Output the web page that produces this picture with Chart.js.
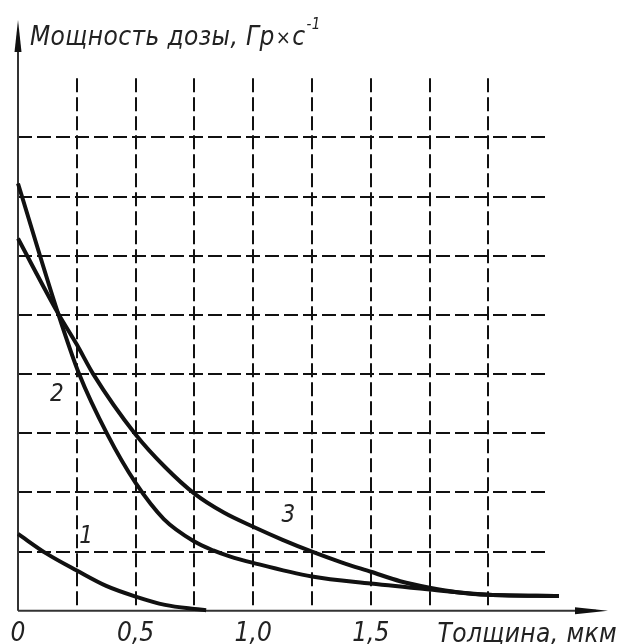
<!DOCTYPE html>
<html>
<head>
<meta charset="utf-8">
<script src="https://cdn.jsdelivr.net/npm/chart.js@4.4.1/dist/chart.umd.min.js"></script>
<style>
  html, body { margin: 0; padding: 0; background: #fff; }
  #doseChart { display: block; }
</style>
</head>
<body>
<canvas id="doseChart" width="619" height="644"></canvas>
<script>
// thickness, um
var thickness1 = [0, 0.12, 0.25, 0.375, 0.5, 0.625, 0.75, 0.8];
var thickness2 = [0, 0.17, 0.26, 0.38, 0.5, 0.62, 0.75, 0.83, 0.9, 1.0, 1.25, 1.5, 1.75, 2.0, 2.3];
var thickness3 = [0, 0.17, 0.25, 0.32, 0.5, 0.625, 0.75, 0.875, 1.0, 1.125, 1.25, 1.375, 1.5, 1.625, 1.75, 1.875, 2.0, 2.3];

// dose rate, grid units
var dose1 = [1.3, 0.97, 0.68, 0.42, 0.24, 0.1, 0.03, 0.01];
var dose2 = [7.22, 5.03, 4.0, 2.98, 2.16, 1.55, 1.17, 1.02, 0.92, 0.81, 0.58, 0.46, 0.36, 0.27, 0.25];
var dose3 = [6.29, 5.03, 4.5, 4.0, 2.98, 2.43, 1.98, 1.66, 1.42, 1.2, 1.0, 0.82, 0.66, 0.5, 0.39, 0.31, 0.27, 0.25];

var tickValues = [0, 0.5, 1.0, 1.5];
var tickLabels = ['0', '0,5', '1,0', '1,5'];

var FONT = '"DejaVu Sans Condensed", "DejaVu Sans", sans-serif';
var INK = '#111';

function toPoints(xs, ys) {
  return xs.map(function (x, i) { return { x: x, y: ys[i] }; });
}

function curve(xs, ys) {
  return {
    data: toPoints(xs, ys),
    borderColor: INK,
    borderWidth: 4,
    pointRadius: 0,
    fill: false,
    cubicInterpolationMode: 'monotone',
    clip: false
  };
}

// writes text pieces one after another, each with its own size and baseline shift
function drawRun(ctx, x, y, parts) {
  parts.forEach(function (p) {
    ctx.font = 'italic ' + p.size + 'px ' + FONT;
    ctx.fillText(p.text, x, y - (p.rise || 0));
    x += ctx.measureText(p.text).width + (p.gap || 0);
  });
}

// dashed grid, axes with arrows and all captions
var drawingPlugin = {
  id: 'drawing',
  beforeDatasetsDraw: function (chart) {
    var ctx = chart.ctx;
    var xs = chart.scales.x, ys = chart.scales.y;
    var x0 = xs.getPixelForValue(0), y0 = ys.getPixelForValue(0);

    ctx.save();
    ctx.strokeStyle = INK;
    ctx.lineWidth = 2;
    ctx.setLineDash([14, 5]);
    for (var v = 0.25; v <= 2.0001; v += 0.25) {
      var px = Math.round(xs.getPixelForValue(v));
      ctx.beginPath();
      ctx.moveTo(px, ys.getPixelForValue(9));
      ctx.lineTo(px, y0);
      ctx.stroke();
    }
    for (var h = 1; h <= 8; h++) {
      var py = Math.round(ys.getPixelForValue(h));
      ctx.beginPath();
      ctx.moveTo(x0, py);
      ctx.lineTo(xs.getPixelForValue(2.25), py);
      ctx.stroke();
    }
    ctx.setLineDash([]);

    // axes
    ctx.strokeStyle = '#333';
    ctx.lineWidth = 2;
    ctx.beginPath();
    ctx.moveTo(x0, y0);
    ctx.lineTo(x0, 30);
    ctx.moveTo(x0, y0);
    ctx.lineTo(xs.getPixelForValue(2.5) - 10, y0);
    ctx.stroke();

    ctx.fillStyle = INK;
    ctx.beginPath();
    ctx.moveTo(x0, 20);
    ctx.lineTo(x0 + 3.5, 52);
    ctx.lineTo(x0 - 3.5, 52);
    ctx.closePath();
    ctx.fill();

    ctx.beginPath();
    ctx.moveTo(608, y0);
    ctx.lineTo(575, y0 - 3.5);
    ctx.lineTo(575, y0 + 3.5);
    ctx.closePath();
    ctx.fill();
    ctx.restore();
  },
  afterDatasetsDraw: function (chart) {
    var ctx = chart.ctx;
    var xs = chart.scales.x, ys = chart.scales.y;
    ctx.save();
    ctx.fillStyle = '#222';
    ctx.textBaseline = 'alphabetic';
    ctx.textAlign = 'left';
    ctx.letterSpacing = '0.4px';

    drawRun(ctx, 30, 45, [
      { text: 'Мощность дозы, Гр', size: 26, gap: 1 },
      { text: '×', size: 20, rise: 1, gap: 1 },
      { text: 'с', size: 26, gap: 1 },
      { text: '-1', size: 15, rise: 16 }
    ]);

    ctx.font = 'italic 26px ' + FONT;
    ctx.textAlign = 'right';
    ctx.fillText('Толщина, мкм', 617, 642);

    // curve numbers
    ctx.letterSpacing = '0px';
    ctx.textAlign = 'center';
    ctx.textBaseline = 'middle';
    ctx.font = 'italic 24px ' + FONT;
    ctx.fillText('1', xs.getPixelForValue(0.29), ys.getPixelForValue(1.25));
    ctx.fillText('2', xs.getPixelForValue(0.165), ys.getPixelForValue(3.65));
    ctx.fillText('3', xs.getPixelForValue(1.15), ys.getPixelForValue(1.6));
    ctx.restore();
  }
};

new Chart(document.getElementById('doseChart'), {
  type: 'line',
  data: {
    datasets: [
      curve(thickness1, dose1),
      curve(thickness2, dose2),
      curve(thickness3, dose3)
    ]
  },
  options: {
    responsive: false,
    animation: false,
    layout: { padding: { left: 18, right: 13, top: 19, bottom: -6 } },
    plugins: {
      legend: { display: false },
      tooltip: { enabled: false }
    },
    scales: {
      x: {
        type: 'linear',
        min: 0,
        max: 2.5,
        grid: { display: false },
        border: { display: false },
        afterBuildTicks: function (axis) {
          axis.ticks = tickValues.map(function (v) { return { value: v }; });
        },
        ticks: {
          autoSkip: false,
          maxRotation: 0,
          padding: 0,
          color: '#222',
          font: { family: FONT, size: 26, style: 'italic' },
          callback: function (value, index) { return tickLabels[index]; }
        }
      },
      y: {
        type: 'linear',
        min: 0,
        max: 10,
        display: false
      }
    }
  },
  plugins: [drawingPlugin]
});
</script>
</body>
</html>
